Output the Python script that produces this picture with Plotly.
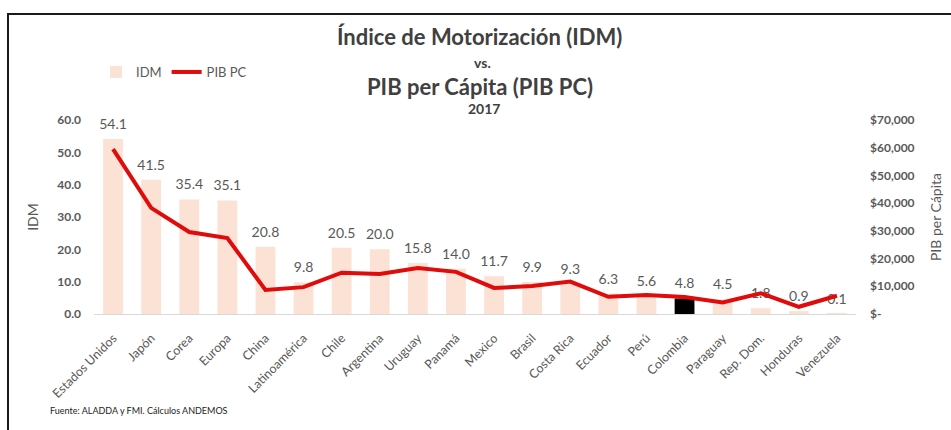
import plotly.graph_objects as go

categories = ["Estados Unidos", "Japón", "Corea", "Europa", "China", "Latinoamérica",
              "Chile", "Argentina", "Uruguay", "Panamá", "Mexico", "Brasil", "Costa Rica",
              "Ecuador", "Perú", "Colombia", "Paraguay", "Rep. Dom.", "Honduras", "Venezuela"]
idm = [54.1, 41.5, 35.4, 35.1, 20.8, 9.8, 20.5, 20.0, 15.8, 14.0, 11.7, 9.9, 9.3,
       6.3, 5.6, 4.8, 4.5, 1.8, 0.9, 0.1]
pib_pc = [59500, 38300, 29600, 27400, 8700, 9700, 14900, 14400, 16600, 15200, 9400,
          10100, 11700, 6200, 6900, 6100, 4200, 7500, 2600, 6600]
right_ticks = [0, 10000, 20000, 30000, 40000, 50000, 60000, 70000]
right_tick_text = ["$-", "$10,000", "$20,000", "$30,000", "$40,000", "$50,000", "$60,000", "$70,000"]
left_ticks = [0, 10, 20, 30, 40, 50, 60]

FONT = "Lato"
GRAY = "#595959"
bar_colors = ["#000000" if c == "Colombia" else "#FBE2D5" for c in categories]

fig = go.Figure()
fig.add_trace(go.Bar(
    x=categories, y=idm, name="IDM", marker=dict(color=bar_colors, line=dict(width=0)),
    yaxis="y", hoverinfo="skip",
))
fig.add_trace(go.Scatter(
    x=categories, y=idm, mode="markers+text", text=[f"{v:.1f}" for v in idm],
    textposition="top center", marker=dict(size=9, opacity=0), cliponaxis=False,
    textfont=dict(family=FONT, size=14, color=GRAY), yaxis="y", showlegend=False,
    hoverinfo="skip",
))
fig.add_trace(go.Scatter(
    x=categories, y=pib_pc, name="PIB PC", mode="lines",
    line=dict(color="#E00B0B", width=4), yaxis="y2", hoverinfo="skip",
))

L, R, T, B = 94, 95, 120, 116
W, H = 951, 430
pw, ph = W - L - R, H - T - B

def px(x):
    return (x - L) / pw

def py(y):
    return 1 - (y - T) / ph

annotations = [
    dict(text="<b>Índice de Motorización (IDM)</b>", x=px(480), y=py(36), size=22),
    dict(text="<b>vs.</b>", x=px(482), y=py(63), size=14),
    dict(text="<b>PIB per Cápita (PIB PC)</b>", x=px(480), y=py(86), size=22),
    dict(text="<b>2017</b>", x=px(484), y=py(108), size=14),
]
ann = []
for a in annotations:
    ann.append(dict(text=a["text"], x=a["x"], y=a["y"], xref="paper", yref="paper",
                    xanchor="center", yanchor="middle", showarrow=False,
                    font=dict(family=FONT, size=a["size"], color="#404040")))
ann.append(dict(text="Fuente: ALADDA y FMI. Cálculos ANDEMOS", x=px(48), y=py(410),
                xref="paper", yref="paper", xanchor="left", yanchor="middle", showarrow=False,
                font=dict(family=FONT, size=9, color="#222222")))

fig.update_layout(
    width=W, height=H, margin=dict(l=L, r=R, t=T, b=B, autoexpand=False),
    paper_bgcolor="white", plot_bgcolor="white",
    bargap=0.48, showlegend=True, hovermode=False,
    legend=dict(orientation="h", x=px(96), y=py(72), xanchor="left", yanchor="middle",
                font=dict(family=FONT, size=13, color=GRAY), bgcolor="rgba(0,0,0,0)",
                itemwidth=30),
    xaxis=dict(range=[-0.5, 19.5], tickangle=-45, showline=True, linecolor="#D9D9D9",
               linewidth=1, ticks="", showgrid=False, automargin=False, ticklabelstandoff=11,
               tickfont=dict(family=FONT, size=12.5, color=GRAY)),
    yaxis=dict(range=[0, 60], tickvals=left_ticks,
               ticktext=[f"<b>{v:.1f}</b>" for v in left_ticks],
               showgrid=False, zeroline=False, ticks="", automargin=False, ticklabelstandoff=12,
               tickfont=dict(family=FONT, size=12, color=GRAY),
               title=dict(text="IDM", font=dict(family=FONT, size=14, color=GRAY), standoff=15)),
    yaxis2=dict(range=[0, 70000], overlaying="y", side="right", tickvals=right_ticks,
                ticktext=[f"<b>{t}</b>" for t in right_tick_text], showgrid=False,
                zeroline=False, ticks="", automargin=False, ticklabelstandoff=13,
                tickfont=dict(family=FONT, size=12, color=GRAY),
                title=dict(text="PIB per Cápita", font=dict(family=FONT, size=14, color=GRAY),
                           standoff=17)),
    annotations=ann,
    shapes=[dict(type="rect", xref="paper", yref="paper",
                 x0=px(8), x1=px(965), y0=py(445), y1=py(14),
                 line=dict(color="#1A1A1A", width=2), fillcolor="rgba(0,0,0,0)", layer="below")],
)

fig.write_html("out.html", config={"displayModeBar": False},
               post_script="document.body.style.margin='0';")
